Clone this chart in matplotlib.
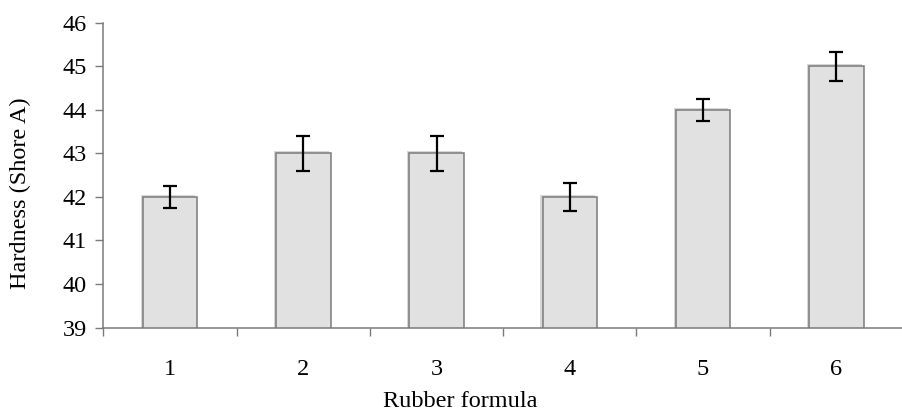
import numpy as np
import matplotlib.pyplot as plt
import matplotlib.patheffects as pe

formulas = ['1', '2', '3', '4', '5', '6']
hardness = [42, 43, 43, 42, 44, 45]
hardness_err = [0.25, 0.41, 0.41, 0.32, 0.25, 0.34]

plt.rcParams['font.family'] = ['Liberation Serif', 'DejaVu Serif']
fs = 17.5

fig = plt.figure(figsize=(9.03, 4.18), dpi=100)
ax = fig.add_axes([0.1145, 0.2165, 0.8855, 0.7285])

x = np.arange(1, len(formulas) + 1)

# gray columns with a faint offset shadow
bars = ax.bar(x, hardness, width=0.41, bottom=0, color='#e1e1e1',
              edgecolor='#7a7a7a', linewidth=1.1, zorder=2)
for b in bars:
    b.set_path_effects([pe.SimplePatchShadow(offset=(-1.5, 1.5),
                                             shadow_rgbFace='#d6d6d6', alpha=1),
                        pe.Normal()])

ax.errorbar(x, hardness, yerr=hardness_err, fmt='none', ecolor='black',
            elinewidth=1.6, capsize=5.3, capthick=1.6, zorder=3)

ax.set_xlim(0.5, 6.5)
ax.set_ylim(39, 46)
ax.set_yticks(np.arange(39, 47, 1))

ax.set_xticks(x)
ax.set_xticklabels(formulas)
ax.set_xticks(np.arange(0.5, 7.0, 1.0), minor=True)
ax.tick_params(axis='x', which='major', length=0, pad=23, labelsize=fs)
ax.tick_params(axis='x', which='minor', length=6, width=1, color='#7a7a7a',
               direction='out')
ax.tick_params(axis='y', length=6, width=1, color='#7a7a7a', pad=6,
               labelsize=fs)

for side in ['top', 'right']:
    ax.spines[side].set_visible(False)
for side in ['left', 'bottom']:
    ax.spines[side].set_color('#7a7a7a')
    ax.spines[side].set_linewidth(1.1)

ax.set_ylabel('Hardness (Shore A)', fontsize=fs)
ax.yaxis.set_label_coords(-0.09, 0.44)
ax.set_xlabel('Rubber formula', fontsize=fs)
ax.xaxis.set_label_coords(0.446, -0.207)

fig.savefig('out.png', dpi=100)
